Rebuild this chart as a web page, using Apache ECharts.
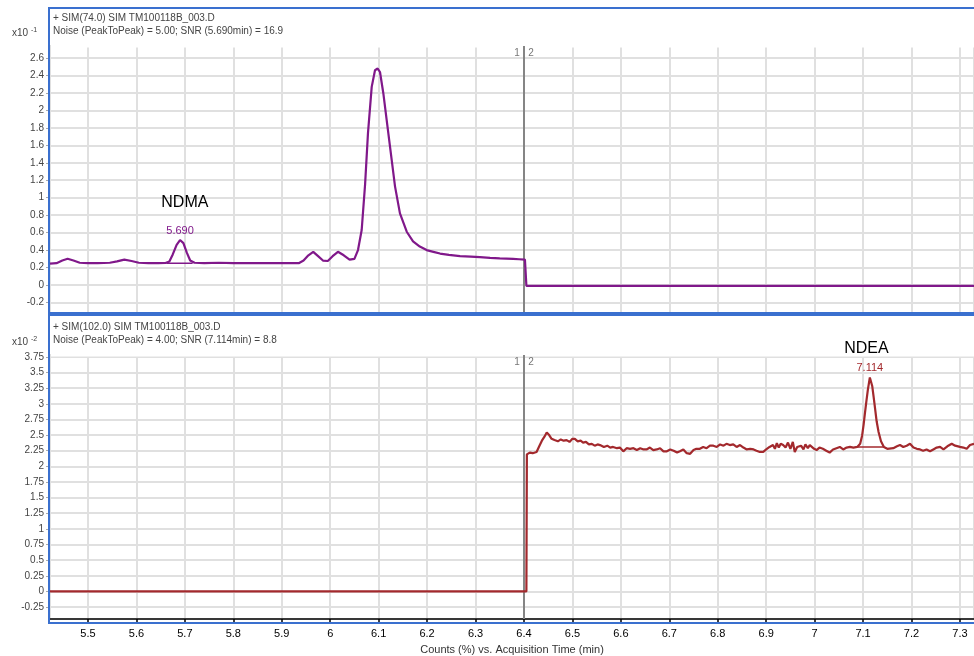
<!DOCTYPE html>
<html>
<head>
<meta charset="utf-8">
<script src="https://cdn.jsdelivr.net/npm/echarts@6/dist/echarts.min.js"></script>
<style>html,body{margin:0;padding:0;background:#fff}#c{width:974px;height:656px}</style>
</head>
<body>
<div id="c"></div>
<script>
// ---- data (counts x10^-1 for NDMA trace, x10^-2 for NDEA trace) ----
const ndmaTime = [5.4216,5.435,5.447,5.458,5.470,5.483,5.50,5.52,5.545,5.56,5.575,5.59,5.605,5.625,5.645,5.66,5.668,5.675,5.683,5.690,5.697,5.704,5.711,5.72,5.74,5.77,5.80,5.85,5.90,5.935,5.945,5.955,5.965,5.975,5.985,5.995,6.005,6.016,6.028,6.04,6.05,6.0574,6.065,6.072,6.078,6.0857,6.0925,6.098,6.1028,6.1096,6.1166,6.127,6.1338,6.144,6.158,6.171,6.185,6.199,6.213,6.2267,6.245,6.268,6.29,6.309,6.33,6.35,6.3774,6.39,6.402,6.405,6.42,7.329];
const ndmaCounts = [0.245,0.25,0.28,0.30,0.28,0.255,0.25,0.25,0.255,0.27,0.29,0.275,0.255,0.25,0.25,0.252,0.27,0.35,0.46,0.515,0.48,0.37,0.28,0.255,0.25,0.255,0.25,0.25,0.25,0.25,0.28,0.34,0.38,0.33,0.28,0.275,0.33,0.38,0.34,0.29,0.30,0.40,0.63,1.15,1.74,2.27,2.46,2.48,2.44,2.20,1.89,1.43,1.13,0.82,0.61,0.50,0.44,0.40,0.38,0.36,0.345,0.33,0.325,0.32,0.31,0.305,0.30,0.295,0.29,-0.01,-0.01,-0.01];
const ndmaBaseTime = [5.662,5.716];
const ndmaBaseCounts = [0.25,0.25];

const ndeaTime = [5.4216,6.405,6.406,6.412,6.418,6.426,6.432,6.437,6.442,6.447,6.452,6.457,6.463,6.470,6.476,6.482,6.488,6.494,6.500,6.505,6.511,6.517,6.522,6.528,6.534,6.540,6.546,6.552,6.557,6.565,6.572,6.578,6.584,6.592,6.598,6.605,6.612,6.619,6.626,6.633,6.640,6.647,6.653,6.660,6.667,6.674,6.681,6.688,6.695,6.702,6.709,6.716,6.722,6.729,6.736,6.743,6.750,6.756,6.763,6.770,6.777,6.784,6.791,6.798,6.805,6.812,6.818,6.825,6.832,6.839,6.846,6.853,6.860,6.867,6.874,6.880,6.887,6.894,6.900,6.907,6.914,6.918,6.922,6.926,6.930,6.935,6.940,6.945,6.950,6.955,6.959,6.964,6.968,6.972,6.977,6.981,6.986,6.990,6.994,6.999,7.004,7.010,7.017,7.024,7.031,7.038,7.045,7.052,7.059,7.066,7.073,7.080,7.088,7.094,7.098,7.101,7.104,7.107,7.110,7.114,7.119,7.122,7.125,7.128,7.132,7.137,7.143,7.150,7.1624,7.170,7.1763,7.183,7.190,7.1969,7.204,7.211,7.2176,7.224,7.231,7.2382,7.245,7.252,7.2589,7.266,7.274,7.283,7.290,7.3001,7.307,7.314,7.3208,7.329];
const ndeaCounts = [0,0,2.19,2.22,2.21,2.23,2.33,2.41,2.47,2.54,2.50,2.44,2.42,2.40,2.43,2.41,2.42,2.39,2.44,2.44,2.40,2.41,2.38,2.39,2.35,2.36,2.33,2.35,2.34,2.31,2.33,2.30,2.31,2.29,2.30,2.24,2.29,2.28,2.29,2.26,2.29,2.27,2.27,2.30,2.26,2.27,2.29,2.24,2.24,2.27,2.25,2.22,2.24,2.27,2.21,2.20,2.26,2.28,2.28,2.31,2.29,2.33,2.33,2.31,2.35,2.33,2.36,2.34,2.35,2.31,2.34,2.30,2.27,2.28,2.27,2.25,2.23,2.23,2.27,2.31,2.34,2.28,2.37,2.30,2.36,2.34,2.30,2.38,2.28,2.39,2.23,2.31,2.28,2.33,2.27,2.35,2.29,2.34,2.34,2.28,2.26,2.30,2.28,2.25,2.22,2.27,2.29,2.31,2.27,2.30,2.31,2.30,2.31,2.36,2.49,2.66,2.86,3.05,3.23,3.42,3.28,3.10,2.91,2.72,2.55,2.40,2.31,2.28,2.29,2.32,2.34,2.31,2.33,2.36,2.30,2.28,2.27,2.25,2.27,2.24,2.27,2.30,2.31,2.27,2.32,2.36,2.33,2.31,2.30,2.28,2.34,2.36];
const ndeaBaseTime = [7.088,7.143];
const ndeaBaseCounts = [2.31,2.31];

const xTicks = ['5.5','5.6','5.7','5.8','5.9','6','6.1','6.2','6.3','6.4','6.5','6.6','6.7','6.8','6.9','7','7.1','7.2','7.3'];
const segmentTime = 6.4;
// annotation anchors [time, counts]
const ndmaNameAt = [5.70, 0.94];
const ndmaRtAt = [5.69, 0.62];
const ndeaNameAt = [7.107, 3.88];
const ndeaRtAt = [7.114, 3.57];

const zip = (a, b) => a.map((v, i) => [v, b[i]]);

const PURPLE = '#80188a';
const RED = '#a3292d';
const GRID = '#e0e0e0';
const BLUE = '#3a70cf';
const NARROW = '"Liberation Sans Narrow","Arial Narrow","Liberation Sans",Arial,sans-serif';
const SANS = '"Liberation Sans",Arial,sans-serif';

const chart = echarts.init(document.getElementById('c'), null, {renderer: 'canvas'});

function xAxisCfg(idx, showLabels) {
  return {
    type: 'value', gridIndex: idx, min: 5.4216, max: 7.329,
    minInterval: 0.1, maxInterval: 0.1, splitNumber: 19,
    splitLine: {show: true, lineStyle: {color: GRID, width: 2}},
    axisLine: {show: showLabels, onZero: false, lineStyle: {color: '#000', width: 1.5}},
    axisTick: {show: showLabels, length: 5, lineStyle: {color: '#000', width: 1.5}},
    axisLabel: {show: showLabels, showMinLabel: false, showMaxLabel: false, color: '#000', fontSize: 11, fontFamily: NARROW, margin: 9,
      formatter: v => xTicks.includes(String(+v.toFixed(1))) ? String(+v.toFixed(1)) : ''},
    name: showLabels ? 'Counts (%) vs. Acquisition Time (min)' : '',
    nameLocation: 'middle', nameGap: 25,
    nameTextStyle: {color: '#333', fontSize: 11, fontFamily: NARROW}
  };
}
function yAxisCfg(idx, min, max, step) {
  return {
    type: 'value', gridIndex: idx, min: min, max: max,
    minInterval: step, maxInterval: step, splitNumber: 20,
    splitLine: {show: true, lineStyle: {color: GRID, width: 2}},
    axisLine: {show: false},
    axisTick: {show: true, length: 4, lineStyle: {color: '#aaa'}},
    axisLabel: {showMinLabel: false, showMaxLabel: false, color: '#444', fontSize: 10, fontFamily: SANS, margin: 6}
  };
}
function segLine() {
  return {
    symbol: 'none', silent: true, animation: false,
    lineStyle: {color: '#858585', width: 2, type: 'solid'},
    label: {show: true, position: 'end', formatter: '1   2', color: '#777', fontSize: 10, fontFamily: SANS, distance: -12},
    data: [{xAxis: segmentTime}]
  };
}

chart.setOption({
  animation: false,
  grid: [
    {left: 50, top: 46, width: 924, height: 267},
    {left: 50, top: 355, width: 924, height: 268}
  ],
  xAxis: [xAxisCfg(0, false), xAxisCfg(1, true)],
  yAxis: [yAxisCfg(0, -0.321, 2.738, 0.2), yAxisCfg(1, -0.441, 3.78, 0.25)],
  series: [
    {type: 'line', xAxisIndex: 0, yAxisIndex: 0, data: zip(ndmaTime, ndmaCounts), showSymbol: false,
      lineStyle: {color: PURPLE, width: 2.2}, itemStyle: {color: PURPLE}, z: 5,
      markLine: segLine()},
    {type: 'line', xAxisIndex: 0, yAxisIndex: 0, data: zip(ndmaBaseTime, ndmaBaseCounts), showSymbol: false,
      lineStyle: {color: PURPLE, width: 1.5}, z: 4},
    {type: 'line', xAxisIndex: 1, yAxisIndex: 1, data: zip(ndeaTime, ndeaCounts), showSymbol: false,
      lineStyle: {color: RED, width: 2.2}, itemStyle: {color: RED}, z: 5,
      markLine: segLine()},
    {type: 'line', xAxisIndex: 1, yAxisIndex: 1, data: zip(ndeaBaseTime, ndeaBaseCounts), showSymbol: false,
      lineStyle: {color: RED, width: 1.5}, z: 4}
  ]
});

// annotations placed through the axes' own scales
const p = (gi, pt) => chart.convertToPixel({gridIndex: gi}, pt);
const txt = (gi, pt, text, color, size, family) => {
  const q = p(gi, pt);
  return {type: 'text', x: q[0], y: q[1], z: 12, silent: true,
    style: {text: text, fill: color, font: size + 'px ' + family, align: 'center', verticalAlign: 'middle'}};
};
const gTop = p(0, [5.4216, 2.738]);
const gBot = p(1, [5.4216, 3.78]);
chart.setOption({
  graphic: [
    // hide the unlabeled plot-top edge grid line
    {type: 'rect', shape: {x: 51, y: gTop[1] - 1.5, width: 930, height: 3}, style: {fill: '#fff'}, z: 1, silent: true},
    {type: 'rect', shape: {x: 51, y: gBot[1] - 1.5, width: 930, height: 3}, style: {fill: '#fff'}, z: 1, silent: true},
    {type: 'rect', shape: {x: 49, y: 8, width: 940, height: 305}, style: {fill: 'none', stroke: BLUE, lineWidth: 2}, z: 10, silent: true},
    {type: 'rect', shape: {x: 49, y: 315, width: 940, height: 308}, style: {fill: 'none', stroke: BLUE, lineWidth: 2}, z: 10, silent: true},
    {type: 'text', left: 53, top: 13, style: {text: '+ SIM(74.0) SIM TM100118B_003.D', fill: '#444', font: '10px ' + SANS}, z: 11},
    {type: 'text', left: 53, top: 26, style: {text: 'Noise (PeakToPeak) = 5.00; SNR (5.690min) = 16.9', fill: '#444', font: '10px ' + SANS}, z: 11},
    {type: 'text', left: 53, top: 322, style: {text: '+ SIM(102.0) SIM TM100118B_003.D', fill: '#444', font: '10px ' + SANS}, z: 11},
    {type: 'text', left: 53, top: 335, style: {text: 'Noise (PeakToPeak) = 4.00; SNR (7.114min) = 8.8', fill: '#444', font: '10px ' + SANS}, z: 11},
    {type: 'text', left: 12, top: 27, style: {text: '{a|x10 }{s|-1}', rich: {a: {fontSize: 10, fill: '#444', fontFamily: SANS}, s: {fontSize: 7, fill: '#444', fontFamily: SANS, padding: [0, 0, 6, 0]}}}, z: 11},
    {type: 'text', left: 12, top: 336, style: {text: '{a|x10 }{s|-2}', rich: {a: {fontSize: 10, fill: '#444', fontFamily: SANS}, s: {fontSize: 7, fill: '#444', fontFamily: SANS, padding: [0, 0, 6, 0]}}}, z: 11},
    txt(0, ndmaNameAt, 'NDMA', '#000', 16, NARROW),
    txt(0, ndmaRtAt, '5.690', PURPLE, 11, SANS),
    txt(1, ndeaNameAt, 'NDEA', '#000', 16, NARROW),
    txt(1, ndeaRtAt, '7.114', RED, 11, SANS)
  ]
});
</script>
</body>
</html>
